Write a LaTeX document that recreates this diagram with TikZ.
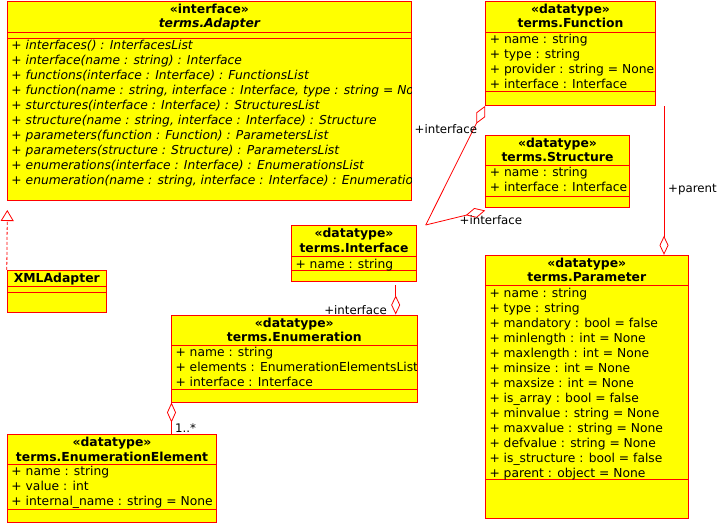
\documentclass[tikz,border=0pt]{standalone}
\usepackage{fontspec}
\setmainfont{DejaVu Sans}[BoldFont={DejaVu Sans Bold},ItalicFont={DejaVu Sans Oblique},BoldItalicFont={DejaVu Sans Bold Oblique}]
\usetikzlibrary{arrows.meta,fit}
\definecolor{umlred}{RGB}{255,0,0}
\definecolor{umlyellow}{RGB}{255,255,0}
\tikzset{
  umlbox/.style={draw=umlred, fill=umlyellow, line width=1pt, inner sep=0pt},
  divider/.style={draw=umlred, line width=1pt},
  hdr/.style={anchor=base, inner sep=0pt, font=\fontsize{12.4}{15}\selectfont\bfseries},
  hdri/.style={hdr, font=\fontsize{12.4}{15}\selectfont\bfseries\itshape},
  attr/.style={anchor=base west, inner sep=0pt, font=\fontsize{12.3}{15}\selectfont},
  op/.style={anchor=base west, inner sep=0pt, font=\fontsize{12.3}{15}\selectfont\itshape},
  lbl/.style={inner sep=0pt, font=\fontsize{11.8}{15}\selectfont},
  assoc/.style={draw=umlred, line width=0.8pt},
  real/.style={draw=umlred, line width=0.8pt, dash pattern=on 3pt off 2pt}
}
\newcommand\umlclass[7]{%
  \node[umlbox, fit={(#2,#3) (#4,#5)}] (#1) {};
  \draw[divider] (#2,#6) -- (#4,#6);
  \draw[divider] (#2,#7) -- (#4,#7);
}
\newcommand\umllines[5]{%
  \foreach \t [count=\i] in {#5} {
    \node[#1] (#2\i) at (#3, {#4+15*(\i-1)}) {\t};
  }
}
\begin{document}
\begin{tikzpicture}[x=1pt, y=-1pt]
\useasboundingbox (0,0) rectangle (723,523);
\fill[white] (0,0) rectangle (723,523);

% terms.Adapter
\umlclass{ad}{7.3}{1}{411.5}{200}{32}{38.3}
\begin{scope}
\clip (7.8,1.5) rectangle (411,199.5);
\node[hdr] (ad-s) at (209.4,13) {«interface»};
\node[hdri] (ad-n) at (209.4,27.5) {terms.Adapter};
\umllines{op}{ad-o}{11.3}{49.5}{%
 {+ interfaces() : InterfacesList},
 {+ interface(name : string) : Interface},
 {+ functions(interface : Interface) : FunctionsList},
 {+ function(name : string, interface : Interface, type : string = None) : Function},
 {+ sturctures(interface : Interface) : StructuresList},
 {+ structure(name : string, interface : Interface) : Structure},
 {+ parameters(function : Function) : ParametersList},
 {+ parameters(structure : Structure) : ParametersList},
 {+ enumerations(interface : Interface) : EnumerationsList},
 {+ enumeration(name : string, interface : Interface) : Enumeration}}
\end{scope}

% terms.Function
\umlclass{fn}{485.7}{1.3}{655.3}{105.3}{32}{91}
\begin{scope}
\clip (486.2,1.8) rectangle (654.8,104.8);
\node[hdr] (fn-s) at (570.5,13) {«datatype»};
\node[hdr] (fn-n) at (570.5,27.5) {terms.Function};
\umllines{attr}{fn-a}{489.7}{43.3}{%
 {+ name : string},
 {+ type : string},
 {+ provider : string = None},
 {+ interface : Interface}}
\end{scope}

% terms.Structure
\umlclass{st}{485.7}{135.3}{629.3}{207}{165.3}{196}
\begin{scope}
\clip (486.2,135.8) rectangle (628.8,206.5);
\node[hdr] (st-s) at (557.5,147.3) {«datatype»};
\node[hdr] (st-n) at (557.5,161.8) {terms.Structure};
\umllines{attr}{st-a}{489.7}{176.8}{%
 {+ name : string},
 {+ interface : Interface}}
\end{scope}

% terms.Interface
\umlclass{if}{291.3}{225.7}{416.7}{281}{256.7}{270.3}
\begin{scope}
\clip (291.8,226.2) rectangle (416.2,280.5);
\node[hdr] (if-s) at (354,237.7) {«datatype»};
\node[hdr] (if-n) at (354,252.2) {terms.Interface};
\umllines{attr}{if-a}{295.3}{268.2}{{+ name : string}}
\end{scope}

% XMLAdapter
\umlclass{xml}{7.3}{270.3}{106.3}{312}{286}{292.3}
\node[hdr] (xml-n) at (56.8,282) {XMLAdapter};

% terms.Enumeration
\umlclass{en}{171.3}{315}{417.3}{402}{345}{389.3}
\begin{scope}
\clip (171.8,315.5) rectangle (416.8,401.5);
\node[hdr] (en-s) at (294.3,327) {«datatype»};
\node[hdr] (en-n) at (294.3,341.5) {terms.Enumeration};
\umllines{attr}{en-a}{175.3}{356.8}{%
 {+ name : string},
 {+ elements : EnumerationElementsList},
 {+ interface : Interface}}
\end{scope}

% terms.EnumerationElement
\umlclass{ee}{7.3}{434.3}{216.7}{522}{464}{509.3}
\begin{scope}
\clip (7.8,434.8) rectangle (216.2,521.5);
\node[hdr] (ee-s) at (112,446.5) {«datatype»};
\node[hdr] (ee-n) at (112,461) {terms.EnumerationElement};
\umllines{attr}{ee-a}{11.3}{475.5}{%
 {+ name : string},
 {+ value : int},
 {+ internal\_name : string = None}}
\end{scope}

% terms.Parameter
\umlclass{pm}{485.3}{255.3}{688.3}{518.3}{285.3}{479.3}
\begin{scope}
\clip (485.8,255.8) rectangle (687.8,517.8);
\node[hdr] (pm-s) at (586.8,267.3) {«datatype»};
\node[hdr] (pm-n) at (586.8,281.8) {terms.Parameter};
\umllines{attr}{pm-a}{489.3}{297.3}{%
 {+ name : string},
 {+ type : string},
 {+ mandatory : bool = false},
 {+ minlength : int = None},
 {+ maxlength : int = None},
 {+ minsize : int = None},
 {+ maxsize : int = None},
 {+ is\_array : bool = false},
 {+ minvalue : string = None},
 {+ maxvalue : string = None},
 {+ defvalue : string = None},
 {+ is\_structure : bool = false},
 {+ parent : object = None}}
\end{scope}

% connectors
\coordinate (rt) at (7.3,210);
\draw[real, -{Triangle[open, length=11pt, width=13pt]}] (xml.north west) -- (rt);

\coordinate (j) at (425.7,225);
\coordinate (stj) at ([yshift=-3pt]st.south west);
\draw[assoc, {Diamond[open, length=20pt, width=10pt]}-] (fn.south west) -- (j);
\draw[assoc, -{Diamond[open, length=20pt, width=10pt]}] (j) -- (stj);
\node[lbl, anchor=base west] (l1) at (414.5,133) {+interface};
\node[lbl, anchor=base west] (l2) at (459.5,224) {+interface};

\coordinate (ps) at (664,106);
\draw[assoc, -{Diamond[open, length=19pt, width=9pt]}] (ps) -- (ps |- pm.north);
\node[lbl, anchor=base west] (l3) at (668,192) {+parent};

\coordinate (is) at (395.7,285);
\draw[assoc, -{Diamond[open, length=19pt, width=9pt]}] (is) -- (is |- en.north);
\node[lbl, anchor=base east] (l4) at (387,314) {+interface};

\coordinate (es) at ([xshift=0.7pt]en.south west);
\draw[assoc, {Diamond[open, length=20pt, width=9pt]}-] (es) -- (es |- ee.north);
\node[lbl, anchor=base west] (l5) at (175,432) {1..*};
\end{tikzpicture}
\end{document}
